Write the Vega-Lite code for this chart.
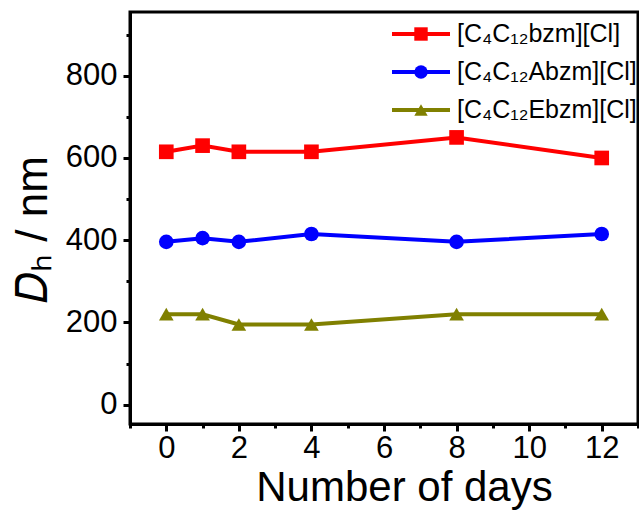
{
  "$schema": "https://vega.github.io/schema/vega-lite/v6.json",
  "width": 508,
  "height": 412,
  "autosize": "none",
  "padding": {"left": 130, "top": 12, "right": 1, "bottom": 90},
  "background": "white",
  "data": {
    "values": [
      {"series": "[C₄C₁₂bzm][Cl]", "day": 0, "dh": 615},
      {"series": "[C₄C₁₂bzm][Cl]", "day": 1, "dh": 630},
      {"series": "[C₄C₁₂bzm][Cl]", "day": 2, "dh": 615},
      {"series": "[C₄C₁₂bzm][Cl]", "day": 4, "dh": 615},
      {"series": "[C₄C₁₂bzm][Cl]", "day": 8, "dh": 650},
      {"series": "[C₄C₁₂bzm][Cl]", "day": 12, "dh": 600},
      {"series": "[C₄C₁₂Abzm][Cl]", "day": 0, "dh": 396},
      {"series": "[C₄C₁₂Abzm][Cl]", "day": 1, "dh": 405},
      {"series": "[C₄C₁₂Abzm][Cl]", "day": 2, "dh": 396},
      {"series": "[C₄C₁₂Abzm][Cl]", "day": 4, "dh": 415},
      {"series": "[C₄C₁₂Abzm][Cl]", "day": 8, "dh": 396},
      {"series": "[C₄C₁₂Abzm][Cl]", "day": 12, "dh": 415},
      {"series": "[C₄C₁₂Ebzm][Cl]", "day": 0, "dh": 220},
      {"series": "[C₄C₁₂Ebzm][Cl]", "day": 1, "dh": 220},
      {"series": "[C₄C₁₂Ebzm][Cl]", "day": 2, "dh": 195},
      {"series": "[C₄C₁₂Ebzm][Cl]", "day": 4, "dh": 195},
      {"series": "[C₄C₁₂Ebzm][Cl]", "day": 8, "dh": 220},
      {"series": "[C₄C₁₂Ebzm][Cl]", "day": 12, "dh": 220}
    ]
  },
  "layer": [
    {
      "mark": {"type": "line", "strokeWidth": 4},
      "encoding": {
        "x": {
          "field": "day", "type": "quantitative",
          "scale": {"domain": [-1, 13], "nice": false, "zero": false},
          "axis": {
            "orient": "bottom", "values": [0, 2, 4, 6, 8, 10, 12],
            "tickSize": 7, "labelFontSize": 31, "labelPadding": 2,
            "title": "Number of days", "titleFontSize": 42,
            "titleBaseline": "alphabetic", "titleX": 274, "titleY": 76
          }
        },
        "y": {
          "field": "dh", "type": "quantitative",
          "scale": {"domain": [-47, 955], "nice": false, "zero": false},
          "axis": {
            "orient": "left", "values": [0, 200, 400, 600, 800],
            "tickSize": 7, "labelFontSize": 31, "labelPadding": 6,
            "title": "𝐷ₕ / nm", "titleFontSize": 44, "titlePadding": 10,
            "titleY": 217
          }
        },
        "stroke": {
          "field": "series", "type": "nominal",
          "sort": ["[C₄C₁₂bzm][Cl]", "[C₄C₁₂Abzm][Cl]", "[C₄C₁₂Ebzm][Cl]"],
          "scale": {"range": ["#ff0000", "#0000ff", "#808000"]},
          "legend": {
            "title": null,
            "orient": "none",
            "legendX": 260,
            "legendY": 3,
            "padding": 0,
            "symbolType": "M-1,0H1",
            "symbolSize": 3364,
            "symbolStrokeWidth": 4,
            "clipHeight": 38,
            "rowPadding": 0,
            "labelOffset": 5,
            "labelFontSize": 25,
            "labelLimit": 300
          }
        }
      }
    },
    {
      "mark": {"type": "point", "filled": true, "opacity": 1, "strokeWidth": 0},
      "encoding": {
        "x": {"field": "day", "type": "quantitative", "axis": null},
        "y": {"field": "dh", "type": "quantitative", "axis": null},
        "fill": {
          "field": "series", "type": "nominal",
          "scale": {
            "domain": ["[C₄C₁₂bzm][Cl]", "[C₄C₁₂Abzm][Cl]", "[C₄C₁₂Ebzm][Cl]"],
            "range": ["#ff0000", "#0000ff", "#808000"]
          },
          "legend": {
            "title": null,
            "orient": "none",
            "legendX": 284,
            "legendY": 3,
            "padding": 0,
            "symbolSize": 180,
            "symbolStrokeWidth": 0,
            "symbolOpacity": 1,
            "clipHeight": 38,
            "rowPadding": 0,
            "labelExpr": "''"
          }
        },
        "shape": {
          "field": "series", "type": "nominal",
          "scale": {
            "domain": ["[C₄C₁₂bzm][Cl]", "[C₄C₁₂Abzm][Cl]", "[C₄C₁₂Ebzm][Cl]"],
            "range": ["square", "circle", "triangle-up"]
          },
          "legend": {
            "title": null,
            "orient": "none",
            "legendX": 284,
            "legendY": 3,
            "padding": 0,
            "symbolSize": 180,
            "symbolStrokeWidth": 0,
            "symbolOpacity": 1,
            "clipHeight": 38,
            "rowPadding": 0,
            "labelExpr": "''"
          }
        },
        "size": {"value": 215}
      }
    },
    {
      "mark": {"type": "point", "opacity": 0},
      "encoding": {
        "x": {
          "field": "day", "type": "quantitative",
          "axis": {
            "orient": "bottom", "values": [-1, 1, 3, 5, 7, 9, 11, 13],
            "tickSize": 4, "labels": false, "domain": false, "title": null
          }
        },
        "y": {
          "field": "dh", "type": "quantitative",
          "axis": {
            "orient": "left", "values": [100, 300, 500, 700, 900],
            "tickSize": 4, "labels": false, "domain": false, "title": null
          }
        }
      }
    }
  ],
  "resolve": {"axis": {"x": "independent", "y": "independent"}},
  "config": {
    "font": "Liberation Sans",
    "view": {"stroke": "black", "strokeWidth": 3},
    "axis": {
      "grid": false,
      "domainColor": "black", "domainWidth": 3,
      "tickColor": "black", "tickWidth": 3,
      "labelColor": "black", "titleColor": "black",
      "labelFont": "Liberation Sans", "titleFont": "Liberation Sans",
      "titleFontWeight": "normal"
    },
    "legend": {"labelFont": "Liberation Sans", "labelColor": "black"}
  }
}
